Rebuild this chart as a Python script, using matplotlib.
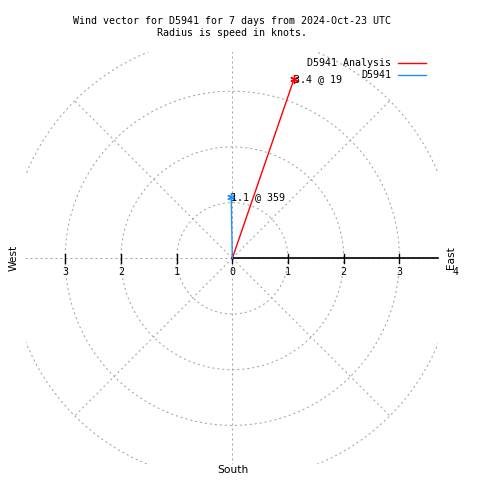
import numpy as np
import matplotlib
matplotlib.use("Agg")
from matplotlib import pyplot as plt

# wind data
names = ["D5941 Analysis", "D5941"]
speeds = [3.4, 1.1]          # knots
directions = [19, 359]       # degrees
colors = ["#ff0000", "#1e90ff"]

rings = [1, 2, 3, 4]
spokes = [0, 45, 90, 135, 180, 225, 270, 315]
ticks_east = [0, 1, 2, 3]
ticks_west = [1, 2, 3]

title = "Wind vector for D5941 for 7 days from 2024-Oct-23 UTC\nRadius is speed in knots."

mono = "DejaVu Sans Mono"
fs = 7.2
grey = "#a0a0a0"

fig = plt.figure(figsize=(4.8, 4.8), dpi=100)
ax = fig.add_axes([26.2 / 480, (480 - 464.4) / 480, 412.2 / 480, 412.2 / 480])
ax.set_xlim(-3.7, 3.7)
ax.set_ylim(-3.7, 3.7)
ax.set_aspect("equal")
ax.axis("off")

t = np.linspace(0, 2 * np.pi, 400)
for r in rings:
    ax.plot(r * np.cos(t), r * np.sin(t), color=grey, lw=0.72, ls=(0, (2, 3)))
for a in spokes:
    ang = np.radians(a)
    ax.plot([0, 4 * np.cos(ang)], [0, 4 * np.sin(ang)], color=grey, lw=0.72, ls=(0, (2, 3)))

# east axis
ax.plot([0, 3.7], [0, 0], color="black", lw=1.2, clip_on=False)
for v in ticks_east:
    ax.plot([v, v], [-0.08, 0.08], color="black", lw=1.0)
    ax.text(v, -0.25, str(v), ha="center", va="center", fontsize=fs, family=mono)
for v in ticks_west:
    ax.plot([-v, -v], [-0.08, 0.08], color="black", lw=1.0)
    ax.text(-v, -0.25, str(v), ha="center", va="center", fontsize=fs, family=mono)
ax.text(4.0, -0.25, "4", ha="center", va="center", fontsize=fs, family=mono, clip_on=False)

# vectors
for name, s, d, c in zip(names, speeds, directions, colors):
    x = s * np.sin(np.radians(d))
    y = s * np.cos(np.radians(d))
    ax.plot([0, x], [0, y], color=c, lw=1.0)
    ax.plot([x], [y], marker=(6, 2, 0), color=c, ms=6, mew=1.0)
    ax.text(x, y, "%.1f @ %d" % (s, d), ha="left", va="center", fontsize=fs, family=mono)

# compass labels
fig.text(451 / 480, 1 - 258 / 480, "East", rotation=90, ha="center", va="center", fontsize=fs + 0.5, family="DejaVu Sans")
fig.text(14 / 480, 1 - 258 / 480, "West", rotation=90, ha="center", va="center", fontsize=fs + 0.5, family="DejaVu Sans")
fig.text(233 / 480, 1 - 470 / 480, "South", ha="center", va="center", fontsize=fs + 0.5, family="DejaVu Sans")

fig.text(232 / 480, 1 - 27 / 480, title, ha="center", va="center", fontsize=fs, family=mono, linespacing=1.25)

# legend
for i, (name, c) in enumerate(zip(names, colors)):
    yy = 1 - (62.5 + 12.5 * i) / 480
    fig.text(391 / 480, yy, name, ha="right", va="center", fontsize=fs, family=mono)
    fig.add_artist(plt.Line2D([398 / 480, 426 / 480], [yy, yy], color=c, lw=1.0))

fig.savefig("out.png", dpi=100)
